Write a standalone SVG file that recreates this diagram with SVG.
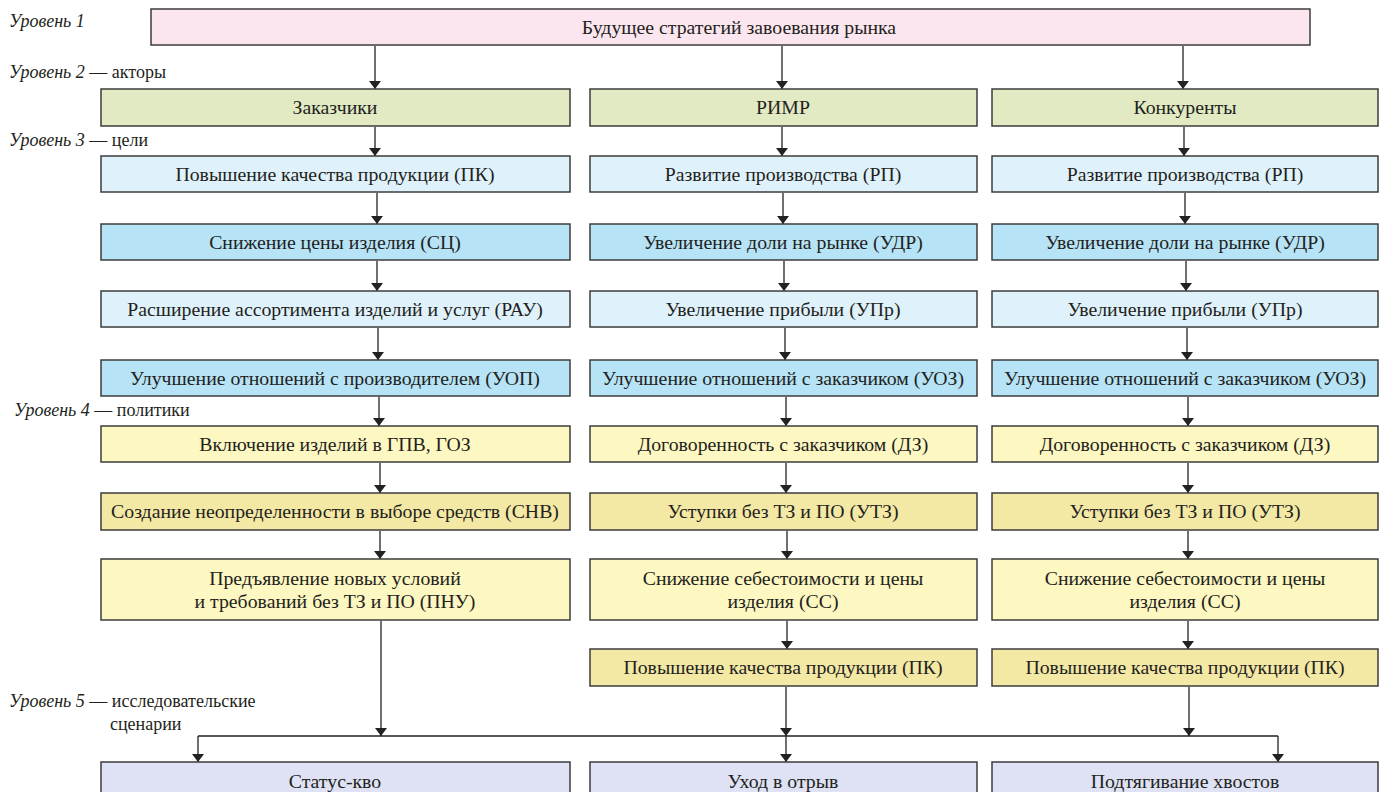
<svg xmlns="http://www.w3.org/2000/svg" width="1384" height="792" viewBox="0 0 1384 792" font-family="'Liberation Serif', 'Times New Roman', Tinos, 'DejaVu Serif', serif">
<style>
.b{stroke:#3c3c3c;stroke-width:1.5}
.pink{fill:#fbe6ef}
.green{fill:#e1eac3}
.lb{fill:#dff2fb}
.bl{fill:#b6e3f6}
.ly{fill:#fdf7c1}
.dy{fill:#f4e8a5}
.lav{fill:#dfe2f4}
text{font-family:'Liberation Serif','Times New Roman',Tinos,'DejaVu Serif',serif;font-size:19.8px;fill:#231f20}
.lv{font-size:18px}
.t{text-anchor:middle}
.i{font-style:italic}
.c{stroke:#222;stroke-width:1.3;fill:none}
</style>
<defs>
<marker id="ah" viewBox="0 0 8 12" refX="8" refY="6" markerWidth="8" markerHeight="12" markerUnits="userSpaceOnUse" orient="auto-start-reverse"><path d="M0,0 L8,6 L0,12 z" fill="#222"/></marker>
</defs>
<rect width="1384" height="792" fill="#fff"/>

<g id="levels">
<text x="9" y="27" class="lv i">Уровень 1</text>
<text x="9" y="78" class="lv"><tspan class="i">Уровень 2</tspan> — акторы</text>
<text x="9" y="146" class="lv"><tspan class="i">Уровень 3</tspan> — цели</text>
<text x="14" y="416" class="lv"><tspan class="i">Уровень 4</tspan> — политики</text>
<text x="9" y="707" class="lv"><tspan class="i">Уровень 5</tspan> — исследовательские</text>
<text x="110" y="730" class="lv">сценарии</text>
</g>

<g id="connectors">
<path class="c" marker-end="url(#ah)" d="M375,46 V89"/>
<path class="c" marker-end="url(#ah)" d="M782,46 V89"/>
<path class="c" marker-end="url(#ah)" d="M1183,46 V89"/>
<path class="c" marker-end="url(#ah)" d="M375,127 V156"/>
<path class="c" marker-end="url(#ah)" d="M782,127 V156"/>
<path class="c" marker-end="url(#ah)" d="M1184,127 V156"/>
<path class="c" marker-end="url(#ah)" d="M377,193 V224"/>
<path class="c" marker-end="url(#ah)" d="M783,193 V224"/>
<path class="c" marker-end="url(#ah)" d="M1185,193 V224"/>
<path class="c" marker-end="url(#ah)" d="M377,261 V291"/>
<path class="c" marker-end="url(#ah)" d="M784,261 V291"/>
<path class="c" marker-end="url(#ah)" d="M1186,261 V291"/>
<path class="c" marker-end="url(#ah)" d="M378,328 V360"/>
<path class="c" marker-end="url(#ah)" d="M785,328 V360"/>
<path class="c" marker-end="url(#ah)" d="M1187,328 V360"/>
<path class="c" marker-end="url(#ah)" d="M379,397 V426"/>
<path class="c" marker-end="url(#ah)" d="M786,397 V426"/>
<path class="c" marker-end="url(#ah)" d="M1188,397 V426"/>
<path class="c" marker-end="url(#ah)" d="M380,463 V493"/>
<path class="c" marker-end="url(#ah)" d="M786,463 V493"/>
<path class="c" marker-end="url(#ah)" d="M1188,463 V493"/>
<path class="c" marker-end="url(#ah)" d="M380,531 V559"/>
<path class="c" marker-end="url(#ah)" d="M787,531 V559"/>
<path class="c" marker-end="url(#ah)" d="M1188,531 V559"/>
<path class="c" marker-end="url(#ah)" d="M787,621 V649"/>
<path class="c" marker-end="url(#ah)" d="M1188,621 V649"/>
<path class="c" marker-end="url(#ah)" d="M381,621 V736"/>
<path class="c" marker-end="url(#ah)" d="M786,687 V736"/>
<path class="c" marker-end="url(#ah)" d="M1189,687 V736"/>
<path class="c" d="M198,736 H1278"/>
<path class="c" marker-end="url(#ah)" d="M198,736 V762"/>
<path class="c" marker-end="url(#ah)" d="M786,736 V762"/>
<path class="c" marker-end="url(#ah)" d="M1278,736 V762"/>
</g>

<g id="n-top"><rect class="b pink" x="151" y="9" width="1159" height="36"/><text class="t" x="739" y="34">Будущее стратегий завоевания рынка</text></g>

<g id="n-c1-l2"><rect class="b green" x="101" y="89" width="469" height="37"/><text class="t" x="335" y="114">Заказчики</text></g>
<g id="n-c2-l2"><rect class="b green" x="590" y="89" width="387" height="37"/><text class="t" x="783" y="114">РИМР</text></g>
<g id="n-c3-l2"><rect class="b green" x="992" y="89" width="386" height="37"/><text class="t" x="1185" y="114">Конкуренты</text></g>

<g id="n-c1-r1"><rect class="b lb" x="101" y="156" width="469" height="36"/><text class="t" x="335" y="181">Повышение качества продукции (ПК)</text></g>
<g id="n-c2-r1"><rect class="b lb" x="590" y="156" width="387" height="36"/><text class="t" x="783" y="181">Развитие производства (РП)</text></g>
<g id="n-c3-r1"><rect class="b lb" x="992" y="156" width="386" height="36"/><text class="t" x="1185" y="181">Развитие производства (РП)</text></g>

<g id="n-c1-r2"><rect class="b bl" x="101" y="224" width="469" height="36"/><text class="t" x="335" y="249">Снижение цены изделия (СЦ)</text></g>
<g id="n-c2-r2"><rect class="b bl" x="590" y="224" width="387" height="36"/><text class="t" x="783" y="249">Увеличение доли на рынке (УДР)</text></g>
<g id="n-c3-r2"><rect class="b bl" x="992" y="224" width="386" height="36"/><text class="t" x="1185" y="249">Увеличение доли на рынке (УДР)</text></g>

<g id="n-c1-r3"><rect class="b lb" x="101" y="291" width="469" height="36"/><text class="t" x="335" y="316">Расширение ассортимента изделий и услуг (РАУ)</text></g>
<g id="n-c2-r3"><rect class="b lb" x="590" y="291" width="387" height="36"/><text class="t" x="783" y="316">Увеличение прибыли (УПр)</text></g>
<g id="n-c3-r3"><rect class="b lb" x="992" y="291" width="386" height="36"/><text class="t" x="1185" y="316">Увеличение прибыли (УПр)</text></g>

<g id="n-c1-r4"><rect class="b bl" x="101" y="360" width="469" height="36"/><text class="t" x="335" y="385">Улучшение отношений с производителем (УОП)</text></g>
<g id="n-c2-r4"><rect class="b bl" x="590" y="360" width="387" height="36"/><text class="t" x="783" y="385">Улучшение отношений с заказчиком (УОЗ)</text></g>
<g id="n-c3-r4"><rect class="b bl" x="992" y="360" width="386" height="36"/><text class="t" x="1185" y="385">Улучшение отношений с заказчиком (УОЗ)</text></g>

<g id="n-c1-r5"><rect class="b ly" x="101" y="426" width="469" height="36"/><text class="t" x="335" y="451">Включение изделий в ГПВ, ГОЗ</text></g>
<g id="n-c2-r5"><rect class="b ly" x="590" y="426" width="387" height="36"/><text class="t" x="783" y="451">Договоренность с заказчиком (ДЗ)</text></g>
<g id="n-c3-r5"><rect class="b ly" x="992" y="426" width="386" height="36"/><text class="t" x="1185" y="451">Договоренность с заказчиком (ДЗ)</text></g>

<g id="n-c1-r6"><rect class="b dy" x="101" y="493" width="469" height="37"/><text class="t" x="335" y="518">Создание неопределенности в выборе средств (СНВ)</text></g>
<g id="n-c2-r6"><rect class="b dy" x="590" y="493" width="387" height="37"/><text class="t" x="783" y="518">Уступки без ТЗ и ПО (УТЗ)</text></g>
<g id="n-c3-r6"><rect class="b dy" x="992" y="493" width="386" height="37"/><text class="t" x="1185" y="518">Уступки без ТЗ и ПО (УТЗ)</text></g>

<g id="n-c1-r7"><rect class="b ly" x="101" y="559" width="469" height="61"/><text class="t" x="335" y="585">Предъявление новых условий</text><text class="t" x="335" y="608">и требований без ТЗ и ПО (ПНУ)</text></g>
<g id="n-c2-r7"><rect class="b ly" x="590" y="559" width="387" height="61"/><text class="t" x="783" y="585">Снижение себестоимости и цены</text><text class="t" x="783" y="608">изделия (СС)</text></g>
<g id="n-c3-r7"><rect class="b ly" x="992" y="559" width="386" height="61"/><text class="t" x="1185" y="585">Снижение себестоимости и цены</text><text class="t" x="1185" y="608">изделия (СС)</text></g>

<g id="n-c2-r8"><rect class="b dy" x="590" y="649" width="387" height="37"/><text class="t" x="783" y="674">Повышение качества продукции (ПК)</text></g>
<g id="n-c3-r8"><rect class="b dy" x="992" y="649" width="386" height="37"/><text class="t" x="1185" y="674">Повышение качества продукции (ПК)</text></g>

<g id="n-s1"><rect class="b lav" x="101" y="762" width="469" height="40"/><text class="t" x="335" y="788">Статус-кво</text></g>
<g id="n-s2"><rect class="b lav" x="590" y="762" width="387" height="40"/><text class="t" x="783" y="788">Уход в отрыв</text></g>
<g id="n-s3"><rect class="b lav" x="992" y="762" width="386" height="40"/><text class="t" x="1185" y="788">Подтягивание хвостов</text></g>
</svg>
